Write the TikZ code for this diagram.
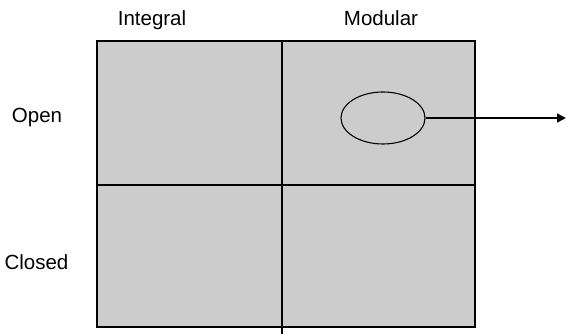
\documentclass[tikz,border=0pt]{standalone}
\usepackage{fontspec}
\setmainfont{Liberation Sans}
\usetikzlibrary{shapes.geometric,arrows.meta}
\begin{document}
\begin{tikzpicture}[x=1pt,y=1pt,
  lbl/.style={font=\fontsize{20.5}{24}\selectfont, inner sep=0pt, anchor=base},
  grid/.style={line width=1.3pt},
  divider/.style={line width=2pt},
  oval/.style={draw, ellipse, line width=1.1pt, minimum width=84pt, minimum height=52pt, inner sep=0pt},
  link/.style={line width=1.6pt, -{Triangle[length=9pt,width=9pt]}}]
\useasboundingbox (0,0) rectangle (566,334);
% quadrant frame
\fill[gray!40] (97,7) rectangle (475,293);
\draw[grid] (97,7) rectangle (475,293);
\draw[grid] (97,149) -- (475,149);
\coordinate (vtop) at (282,293);
\coordinate (vbot) at (282,0);
\draw[divider] (vtop) -- (vbot);
% axis labels
\node[lbl] (integral) at (152,308.5) {Integral};
\node[lbl] (modular) at (381,308.5) {Modular};
\node[lbl] (open) at (37,211) {Open};
\node[lbl] (closed) at (36.5,64) {Closed};
% highlighted region
\node[oval] (spot) at (383,216) {};
\coordinate (out) at (566,216);
\draw[link] (spot.east) -- (out);
\end{tikzpicture}
\end{document}
